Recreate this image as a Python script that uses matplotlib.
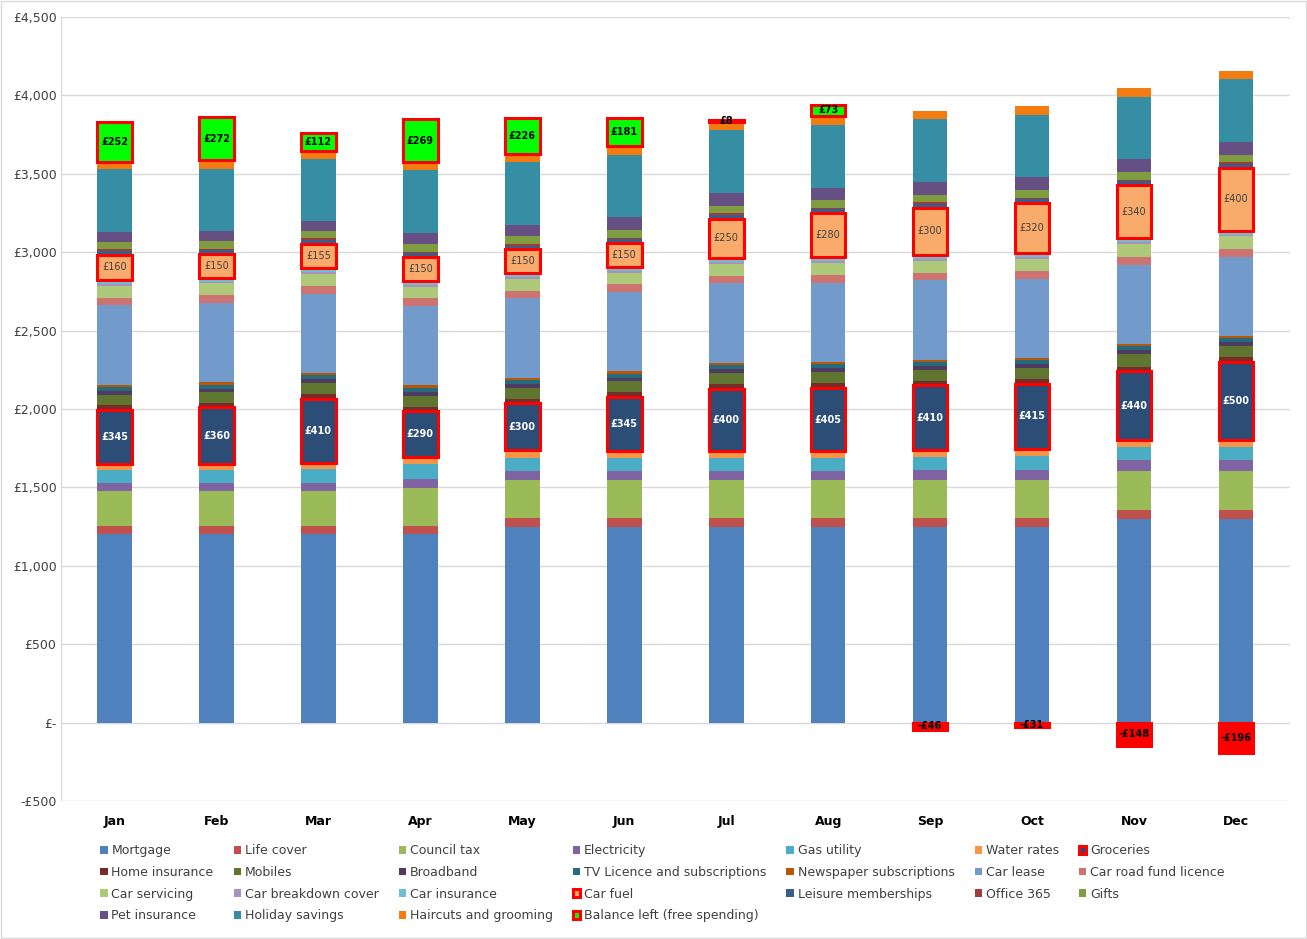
import numpy as np
import matplotlib.pyplot as plt
from matplotlib.ticker import FuncFormatter

months = ['Jan', 'Feb', 'Mar', 'Apr', 'May', 'Jun', 'Jul', 'Aug', 'Sep', 'Oct', 'Nov', 'Dec']

mortgage = [1200, 1200, 1200, 1200, 1250, 1250, 1250, 1250, 1250, 1250, 1300, 1300]
life_cover = [55] * 12
council_tax = [220, 220, 220, 240, 240, 240, 240, 240, 240, 240, 250, 250]
electricity = [55, 55, 55, 60, 60, 60, 60, 60, 65, 65, 70, 70]
gas = [80, 80, 85, 95, 85, 80, 80, 80, 85, 90, 80, 80]
water = [40, 40, 40, 45, 45, 45, 45, 45, 45, 45, 45, 45]
groceries = [345, 360, 410, 290, 300, 345, 400, 405, 410, 415, 440, 500]
home_ins = [30] * 12
mobiles = [65, 65, 70, 70, 70, 70, 70, 70, 70, 70, 80, 70]
broadband = [25] * 12
tv = [25] * 12
newspaper = [15] * 12
car_lease = [505, 505, 505, 505, 505, 505, 505, 505, 505, 505, 505, 505]
road_fund = [50, 50, 50, 50, 50, 50, 50, 50, 50, 50, 50, 50]
servicing = [75, 75, 75, 75, 75, 75, 75, 75, 75, 75, 80, 80]
breakdown = [12] * 12
car_ins = [25] * 12
car_fuel = [160, 150, 155, 150, 150, 150, 250, 280, 300, 320, 340, 400]
leisure = [25] * 12
office = [10] * 12
gifts = [50] * 12
pet_ins = [60, 60, 60, 70, 70, 80, 80, 80, 80, 80, 80, 80]
holiday = [400, 400, 400, 400, 400, 400, 400, 400, 400, 400, 400, 400]
haircuts = [50, 55, 50, 55, 55, 55, 55, 55, 55, 55, 55, 55]
balance = [252, 272, 112, 269, 226, 181, 8, 73, -46, -31, -148, -196]

series = [
    ('Mortgage', mortgage, '#4F81BD'),
    ('Life cover', life_cover, '#C0504D'),
    ('Council tax', council_tax, '#9BBB59'),
    ('Electricity', electricity, '#8064A2'),
    ('Gas utility', gas, '#4BACC6'),
    ('Water rates', water, '#F79646'),
    ('Groceries', groceries, '#2C4D75'),
    ('Home insurance', home_ins, '#772C2A'),
    ('Mobiles', mobiles, '#5F7530'),
    ('Broadband', broadband, '#4D3B62'),
    ('TV Licence and subscriptions', tv, '#276A7C'),
    ('Newspaper subscriptions', newspaper, '#B65708'),
    ('Car lease', car_lease, '#729ACA'),
    ('Car road fund licence', road_fund, '#CD7371'),
    ('Car servicing', servicing, '#AFC97A'),
    ('Car breakdown cover', breakdown, '#A992BA'),
    ('Car insurance', car_ins, '#6FBDD1'),
    ('Car fuel', car_fuel, '#F9AB6B'),
    ('Leisure memberships', leisure, '#3A5E8C'),
    ('Office 365', office, '#9F3B38'),
    ('Gifts', gifts, '#7F9D40'),
    ('Pet insurance', pet_ins, '#664F83'),
    ('Holiday savings', holiday, '#358EA4'),
    ('Haircuts and grooming', haircuts, '#F47B10'),
    ('Balance left (free spending)', balance, '#00FF00'),
]
highlight = {'Groceries': ('white', True), 'Car fuel': ('#404040', False),
             'Balance left (free spending)': ('black', True)}

fig = plt.figure(figsize=(13.07, 9.39), dpi=100)
ax = fig.add_axes([0.047, 0.147, 0.94, 0.835])

x = np.arange(len(months))
width = 0.34
bottom = np.zeros(12)
handles = []
for name, vals, col in series:
    vals = np.array(vals, dtype=float)
    if name.startswith('Balance'):
        b = np.where(vals >= 0, bottom, 0)
        colors = [col if v >= 0 else '#FF0000' for v in vals]
    else:
        b = bottom.copy()
        colors = col
    if name in highlight:
        bars = ax.bar(x, vals, width, bottom=b, color=colors, edgecolor='#FF0000',
                      linewidth=2.2, label=name, zorder=3)
        tc, bold = highlight[name]
        for xi, v, bb in zip(x, vals, b):
            lab = f'£{v:.0f}' if v >= 0 else f'-£{-v:.0f}'
            ax.text(xi, bb + v / 2, lab, ha='center', va='center', fontsize=7,
                    color=tc, fontweight='bold' if bold else 'normal', zorder=4)
    else:
        bars = ax.bar(x, vals, width, bottom=b, color=colors, label=name, zorder=2)
    handles.append(bars)
    bottom = bottom + np.where(vals > 0, vals, 0)

ax.set_ylim(-500, 4500)
ax.set_xlim(-0.52, 11.53)
ax.set_yticks(np.arange(-500, 4501, 500))
ax.yaxis.set_major_formatter(FuncFormatter(
    lambda v, p: '£-' if v == 0 else (f'£{v:,.0f}' if v > 0 else f'-£{-v:,.0f}')))
ax.set_xticks(x)
ax.set_xticklabels(months, fontweight='bold', fontsize=9)
ax.tick_params(axis='y', labelsize=9, length=0, colors='#404040')
ax.tick_params(axis='x', length=0, pad=10)
ax.grid(axis='y', color='#D9D9D9', linewidth=1, zorder=0)
for s in ax.spines.values():
    s.set_visible(False)
ax.axvline(-0.52, color='#D9D9D9', linewidth=1, zorder=0)

labels = [s[0] for s in series]
ncol = 7
order = []
for c in range(ncol):
    i = c
    while i < len(labels):
        order.append(i)
        i += ncol
leg = fig.legend([handles[i] for i in order], [labels[i] for i in order],
                 loc='upper left', bbox_to_anchor=(0.068, 0.113), ncol=ncol,
                 frameon=False, fontsize=9, handlelength=0.6, handleheight=0.6,
                 handletextpad=0.3, columnspacing=1.6, labelspacing=0.7)
for t in leg.get_texts():
    t.set_color('#404040')

fig.patches.append(plt.Rectangle((0.001, 0.001), 0.998, 0.998, transform=fig.transFigure,
                                 fill=False, edgecolor='#D9D9D9', linewidth=1))
fig.savefig('out.png', dpi=100)
